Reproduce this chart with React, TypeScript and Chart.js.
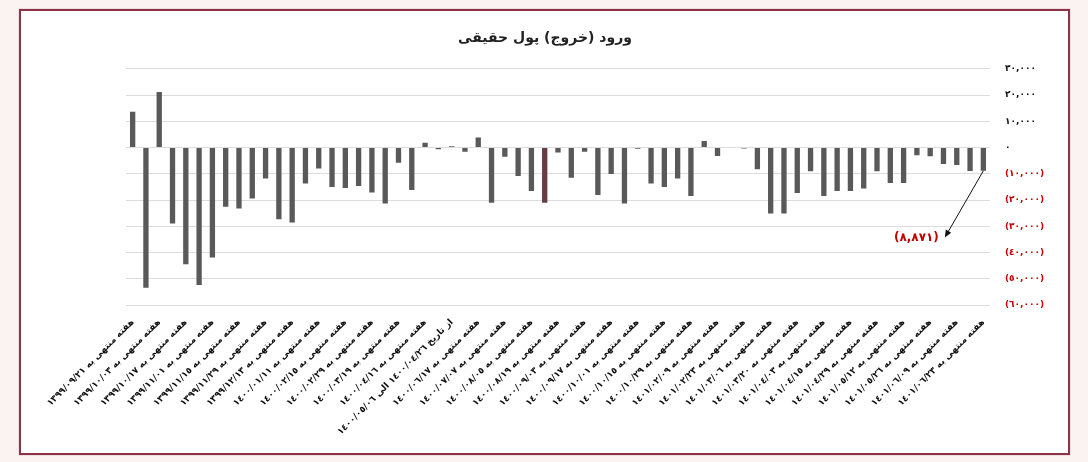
import React, { useEffect, useRef } from "react";
import { Chart, registerables } from "chart.js";

Chart.register(...registerables);

const chartTitle = "ورود (خروج) پول حقیقی";

// Visible tick labels (every second week)
const tickLabels = [
  "هفته منتهی به ١٣٩٩/٠٩/٢١",
  "هفته منتهی به ١٣٩٩/١٠/٠٣",
  "هفته منتهی به ١٣٩٩/١٠/١٧",
  "هفته منتهی به ١٣٩٩/١١/٠١",
  "هفته منتهی به ١٣٩٩/١١/١٥",
  "هفته منتهی به ١٣٩٩/١١/٢٩",
  "هفته منتهی به ١٣٩٩/١٢/١٣",
  "هفته منتهی به ١٤٠٠/٠١/١١",
  "هفته منتهی به ١٤٠٠/٠٢/١٥",
  "هفته منتهی به ١٤٠٠/٠٢/٢٩",
  "هفته منتهی به ١٤٠٠/٠٣/١٩",
  "هفته منتهی به ١٤٠٠/٠٤/١٦",
  "از تاریخ ١٤٠٠/٠٤/٢٦ الی ١٤٠٠/٠٥/٠٦",
  "هفته منتهی به ١٤٠٠/٠٦/١٧",
  "هفته منتهی به ١٤٠٠/٠٧/٠٧",
  "هفته منتهی به ١٤٠٠/٠٨/٠٥",
  "هفته منتهی به ١٤٠٠/٠٨/١٩",
  "هفته منتهی به ١٤٠٠/٠٩/٠٣",
  "هفته منتهی به ١٤٠٠/٠٩/١٧",
  "هفته منتهی به ١٤٠٠/١٠/٠١",
  "هفته منتهی به ١٤٠٠/١٠/١٥",
  "هفته منتهی به ١٤٠٠/١٠/٢٩",
  "هفته منتهی به ١٤٠١/٠٢/٠٩",
  "هفته منتهی به ١٤٠١/٠٢/٢٣",
  "هفته منتهی به ١٤٠١/٠٣/٠٦",
  "هفته منتهی به ١٤٠١/٠٣/٢٠",
  "هفته منتهی به ١٤٠١/٠٤/٠٣",
  "هفته منتهی به ١٤٠١/٠٤/١٥",
  "هفته منتهی به ١٤٠١/٠٤/٢٩",
  "هفته منتهی به ١٤٠١/٠٥/١٢",
  "هفته منتهی به ١٤٠١/٠٥/٢٦",
  "هفته منتهی به ١٤٠١/٠٦/٠٩",
  "هفته منتهی به ١٤٠١/٠٦/٢٣",
];

// Weekly net inflow (outflow) of individual money, 65 weeks
const values = [
  13600, -53400, 21200, -28900, -44500, -52400, -41900, -22600, -23200, -19400,
  -11800, -27300, -28600, -13700, -8000, -15000, -15400, -14700, -17100, -21300,
  -5800, -16200, 1800, -700, 500, -1600, 3800, -21000, -3500, -10800,
  -16600, -21000, -1900, -11500, -1600, -18100, -10100, -21300, -500, -13700,
  -15000, -11800, -18500, 2500, -3200, -200, -400, -8300, -25100, -25100,
  -17300, -9000, -18500, -16600, -16600, -15600, -9000, -13500, -13500, -2900,
  -3300, -6300, -6700, -8900, -8871,
];

const yTicks = [30000, 20000, 10000, 0, -10000, -20000, -30000, -40000, -50000, -60000];

const highlightIndex = 31;
const barColor = "#595959";
const highlightColor = "#6a3a44";

const calloutIndex = 64;
const calloutText = "(٨,٨٧١)";
const calloutLabelIndex = 61.1;
const calloutLabelValue = -34300;

const toArabicDigits = (s: string) =>
  s.replace(/\d/g, (d) => "٠١٢٣٤٥٦٧٨٩"[Number(d)]);

const categories = values.map((_, i) => (i % 2 === 0 ? tickLabels[i / 2] : ""));

const FONT = "'DejaVu Sans', sans-serif";

const calloutPlugin = {
  id: "calloutArrow",
  afterDatasetsDraw(chart: any) {
    const { ctx, scales } = chart;
    const xs = scales.x;
    const ys = scales.y;
    const x0 = xs.getPixelForValue(calloutIndex);
    const y0 = ys.getPixelForValue(values[calloutIndex]);
    const x1 = xs.getPixelForValue(calloutLabelIndex);
    const y1 = ys.getPixelForValue(calloutLabelValue);
    const ang = Math.atan2(y1 - y0, x1 - x0);
    const head = 8;
    ctx.save();
    ctx.strokeStyle = "#111";
    ctx.lineWidth = 1;
    ctx.beginPath();
    ctx.moveTo(x0, y0);
    ctx.lineTo(x1 - Math.cos(ang) * head * 0.8, y1 - Math.sin(ang) * head * 0.8);
    ctx.stroke();
    ctx.fillStyle = "#111";
    ctx.beginPath();
    ctx.moveTo(x1, y1);
    ctx.lineTo(x1 - head * Math.cos(ang - 0.4), y1 - head * Math.sin(ang - 0.4));
    ctx.lineTo(x1 - head * Math.cos(ang + 0.4), y1 - head * Math.sin(ang + 0.4));
    ctx.closePath();
    ctx.fill();
    ctx.font = `bold 12px ${FONT}`;
    ctx.fillStyle = "#c00000";
    ctx.textAlign = "right";
    ctx.textBaseline = "middle";
    ctx.fillText(calloutText, x1 - 6, y1);
    ctx.restore();
  },
};

export default function App() {
  const canvasRef = useRef<HTMLCanvasElement | null>(null);

  useEffect(() => {
    if (!canvasRef.current) return;
    const chart = new Chart(canvasRef.current, {
      type: "bar",
      data: {
        labels: categories,
        datasets: [
          {
            data: values,
            backgroundColor: values.map((_, i) => (i === highlightIndex ? highlightColor : barColor)),
            borderWidth: 0,
            categoryPercentage: 1,
            barPercentage: 0.4,
            yAxisID: "y",
          },
        ],
      },
      options: {
        responsive: false,
        animation: false,
        layout: { padding: { left: 2, right: 0, top: 20, bottom: 0 } },
        plugins: {
          legend: { display: false },
          tooltip: { enabled: false },
          title: {
            display: true,
            text: chartTitle,
            color: "#222",
            font: { family: FONT, size: 14, weight: "bold" },
            padding: { top: 10, bottom: 22 },
          },
        },
        scales: {
          x: {
            type: "category",
            offset: true,
            grid: { display: false },
            border: { display: false },
            ticks: {
              autoSkip: false,
              maxRotation: 45,
              minRotation: 45,
              padding: 4,
              color: "#111",
              font: { family: FONT, size: 9, weight: "bold" },
            },
            afterFit: (s: any) => {
              s.height = 157;
            },
          },
          yLeft: {
            type: "linear",
            position: "left",
            display: true,
            grid: { display: false, drawTicks: false },
            border: { display: false },
            ticks: { display: false },
            afterFit: (s: any) => {
              s.width = 124;
            },
          },
          y: {
            type: "linear",
            position: "right",
            min: -60000,
            max: 30000,
            afterBuildTicks: (s: any) => {
              s.ticks = yTicks.map((v) => ({ value: v }));
            },
            grid: { color: "#dcdcdc", lineWidth: 1, drawTicks: false },
            border: { display: false },
            ticks: {
              padding: 15,
              font: { family: FONT, size: 9, weight: "bold" },
              color: (c: any) => (c.tick && c.tick.value < 0 ? "#c00000" : "#111"),
              callback: (v: any) => {
                const n = Number(v);
                const s = toArabicDigits(Math.abs(n).toLocaleString("en-US"));
                return n < 0 ? `(${s})` : s;
              },
            },
            afterFit: (s: any) => {
              s.width = 98;
            },
          },
        },
      },
      plugins: [calloutPlugin],
    } as any);
    return () => chart.destroy();
  }, []);

  return (
    <div
      style={{
        position: "fixed",
        left: 0,
        top: 0,
        width: 1088,
        height: 462,
        background: "#fbf2f2",
        overflow: "hidden",
      }}
    >
      <div
        style={{
          position: "absolute",
          left: 19,
          top: 9,
          width: 1047,
          height: 442,
          background: "#ffffff",
          border: "2px solid #8a3447",
          boxShadow: "0 0 1px #c07a88",
        }}
      />
      <canvas
        ref={canvasRef}
        width={1088}
        height={462}
        style={{ position: "absolute", left: 0, top: 0, width: 1088, height: 462 }}
      />
    </div>
  );
}
